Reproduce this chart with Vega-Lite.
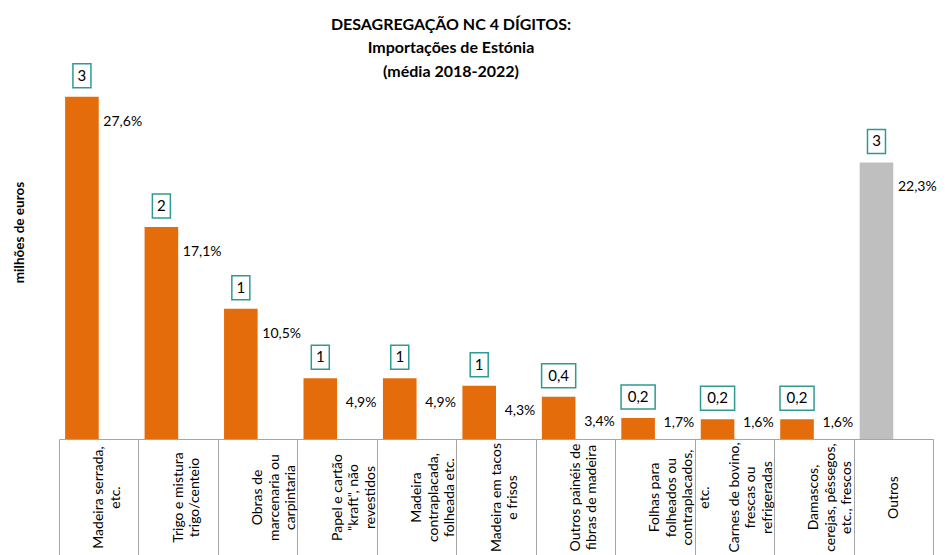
{
  "$schema": "https://vega.github.io/schema/vega-lite/v6.json",
  "width": 874,
  "height": 372,
  "autosize": {"type": "none"},
  "padding": {"left": 59, "top": 67, "right": 15, "bottom": 116},
  "config": {
    "view": {"stroke": null},
    "font": "Lato",
    "locale": {"number": {"decimal": ",", "thousands": ".", "grouping": [3], "currency": ["", " €"]}}
  },
  "title": {
    "text": ["DESAGREGAÇÃO NC 4 DÍGITOS:", "Importações de Estónia", "(média 2018-2022)"],
    "font": "Lato",
    "fontSize": 16,
    "fontWeight": "bold",
    "lineHeight": 23.5,
    "anchor": "middle",
    "frame": "group",
    "dx": -45,
    "offset": -19,
    "color": "black"
  },
  "data": {
    "values": [
      {"cat": "Madeira serrada,|etc.", "valor": 3, "pct": 0.276},
      {"cat": "Trigo e mistura|trigo/centeio", "valor": 2, "pct": 0.171},
      {"cat": "Obras de|marcenaria ou|carpintaria", "valor": 1, "pct": 0.105},
      {"cat": "Papel e cartão|\"kraft\", não|revestidos", "valor": 1, "pct": 0.049},
      {"cat": "Madeira|contraplacada,|folheada etc.", "valor": 1, "pct": 0.049},
      {"cat": "Madeira em tacos|e frisos", "valor": 1, "pct": 0.043},
      {"cat": "Outros painéis de|fibras de madeira", "valor": 0.4, "pct": 0.034},
      {"cat": "Folhas para|folheados ou|contraplacados,|etc.", "valor": 0.2, "pct": 0.017},
      {"cat": "Carnes de bovino,|frescas ou|refrigeradas", "valor": 0.2, "pct": 0.016},
      {"cat": "Damascos,|cerejas, pêssegos,|etc., frescos", "valor": 0.2, "pct": 0.016},
      {"cat": "Outros", "valor": 3, "pct": 0.223}
    ]
  },
  "encoding": {
    "x": {
      "field": "cat",
      "type": "nominal",
      "sort": null,
      "scale": {"paddingInner": 0, "paddingOuter": 0},
      "axis": {
        "title": null,
        "labelAngle": -90,
        "labelAlign": "center",
        "labelBaseline": "middle",
        "labelExpr": "split(datum.label, '|')",
        "labelLineHeight": 16.5,
        "labelFont": "Lato",
        "labelFontSize": 14,
        "labelColor": "black",
        "labelLimit": 0,
        "labelOverlap": false,
        "labelBound": false,
        "tickBand": "extent",
        "tickSize": 130,
        "tickColor": "#A6A6A6",
        "domainColor": "#A6A6A6",
        "labelPadding": -72
      }
    }
  },
  "layer": [
    {
      "mark": {"type": "bar", "width": 33.6, "xOffset": -16.8},
      "encoding": {
        "y": {
          "field": "pct",
          "type": "quantitative",
          "scale": {"domain": [0, 0.3]},
          "axis": {
            "title": "milhões de euros",
            "labels": false,
            "ticks": false,
            "domain": false,
            "grid": false,
            "titleFont": "Lato",
            "titleFontSize": 13.5,
            "titleFontWeight": "bold",
            "titleColor": "black",
            "titleX": -40,
            "titleY": 165,
            "titleAlign": "center",
            "titleBaseline": "middle",
            "titleAngle": -90
          }
        },
        "color": {
          "condition": {"test": "datum.cat === 'Outros'", "value": "#BFBFBF"},
          "value": "#E46C0A"
        }
      }
    },
    {
      "mark": {"type": "point", "filled": false, "stroke": "#2E9A93", "strokeWidth": 1.5, "size": 576, "opacity": 1, "xOffset": -16.8, "yOffset": -21},
      "encoding": {
        "y": {"field": "pct", "type": "quantitative", "scale": {"domain": [0, 0.3]}, "axis": null},
        "shape": {
          "condition": {"test": "datum.valor < 1", "value": "M-1.42,-1L1.42,-1L1.42,1L-1.42,1Z"},
          "value": "M-0.75,-1L0.75,-1L0.75,1L-0.75,1Z"
        }
      }
    },
    {
      "mark": {"type": "text", "dx": -16.8, "dy": -21, "fontSize": 15, "align": "center", "baseline": "middle", "color": "black", "font": "Lato"},
      "encoding": {
        "y": {"field": "pct", "type": "quantitative", "scale": {"domain": [0, 0.3]}, "axis": null},
        "text": {"field": "valor", "type": "quantitative", "format": "~g"}
      }
    },
    {
      "mark": {"type": "text", "dx": 24, "dy": -16, "fontSize": 14, "align": "center", "baseline": "middle", "color": "black", "font": "Lato"},
      "encoding": {
        "y": {"field": "pct", "type": "quantitative", "scale": {"domain": [0.033, 0.333], "clamp": true}, "axis": null},
        "text": {"field": "pct", "type": "quantitative", "format": ".1%"}
      }
    }
  ],
  "resolve": {"scale": {"y": "independent"}}
}
